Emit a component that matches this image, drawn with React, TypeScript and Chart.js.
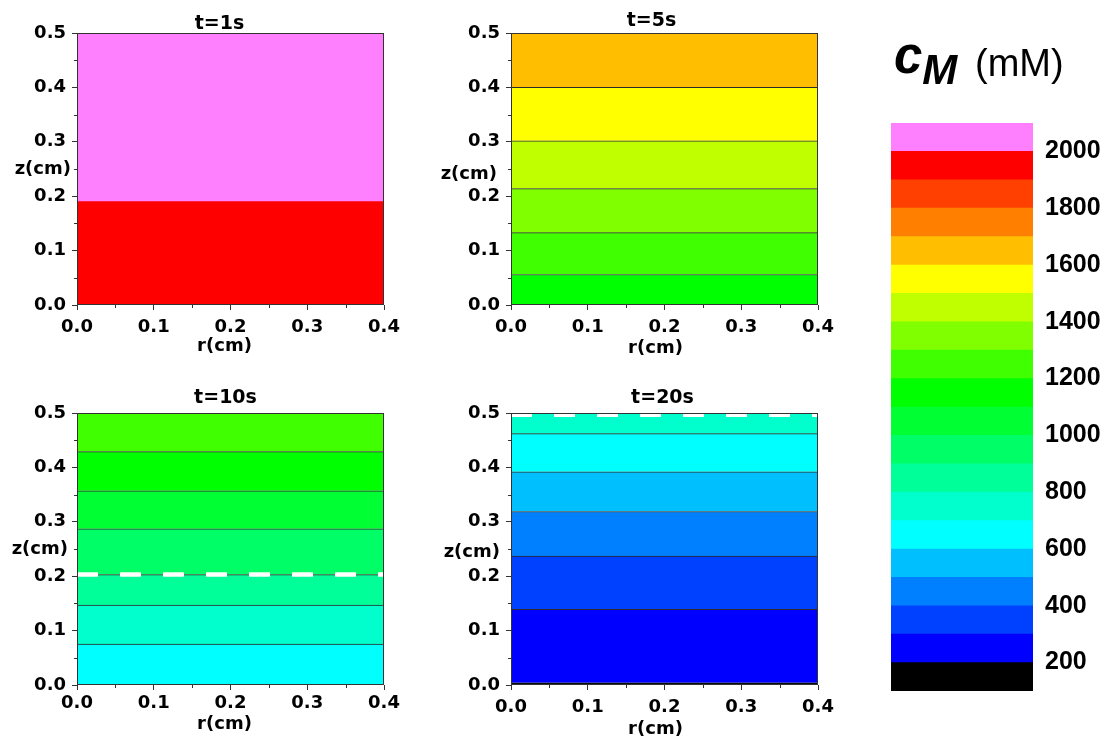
import React, { useEffect, useRef } from "react";
import { Chart, registerables } from "chart.js";

Chart.register(...registerables);

// ---------- data ----------
// lower bound (mM) of each colour band of the colour bar, and its colour
const LEVELS = [100, 200, 300, 400, 500, 600, 700, 800, 900, 1000, 1100, 1200, 1300, 1400, 1500, 1600, 1700, 1800, 1900, 2000];
const LEVEL_COLORS = [
  "#000000", "#0000FF", "#0040FF", "#0080FF", "#00BFFF", "#00FFFF", "#00FFCC", "#00FF99", "#00FF66", "#00FF33",
  "#00FF00", "#40FF00", "#80FF00", "#BFFF00", "#FFFF00", "#FFBF00", "#FF8000", "#FF4000", "#FF0000", "#FF80FF",
];
const LEVEL_STEP = 100;
const COLORBAR_TICKS = [200, 400, 600, 800, 1000, 1200, 1400, 1600, 1800, 2000];

const TITLES = ["t=1s", "t=5s", "t=10s", "t=20s"];
const X_TITLE = "r(cm)";
const Y_TITLE = "z(cm)";

// band boundaries in z (cm) and the concentration level of each band (bottom → top)
const P1_BOUNDS = [0, 0.19, 0.5];
const P1_LEVELS = [1900, 2000];
const P2_BOUNDS = [0, 0.056, 0.133, 0.214, 0.302, 0.4, 0.5];
const P2_LEVELS = [1100, 1200, 1300, 1400, 1500, 1600];
const P3_BOUNDS = [0, 0.075, 0.147, 0.203, 0.287, 0.357, 0.429, 0.5];
const P3_LEVELS = [600, 700, 800, 900, 1000, 1100, 1200];
const P4_BOUNDS = [0, 0.004, 0.139, 0.237, 0.319, 0.392, 0.462, 0.5];
const P4_LEVELS = [100, 200, 300, 400, 500, 600, 700];

const PANEL_BOUNDS = [P1_BOUNDS, P2_BOUNDS, P3_BOUNDS, P4_BOUNDS];
const PANEL_LEVELS = [P1_LEVELS, P2_LEVELS, P3_LEVELS, P4_LEVELS];
// white dashed marker line position (z, cm) per panel
const DASH_Z: (number | null)[] = [null, null, 0.203, 0.497];

const R_RANGE = [0, 0.4];
const Z_RANGE = [0, 0.5];
const Z_TICKS = [0, 0.1, 0.2, 0.3, 0.4, 0.5];
const R_TICKS = [0, 0.1, 0.2, 0.3, 0.4];
const Z_MINOR = [0.05, 0.15, 0.25, 0.35, 0.45];
const R_MINOR = [0.05, 0.15, 0.25, 0.35];

// ---------- layout / style ----------
const FRAME = "#333333";
const CONTOUR = "#2a2a2a";
const TICK_FONT = { family: "'DejaVu Sans'", weight: "bold" as const, size: 18 };
const LABEL_FONT = "bold 18px 'DejaVu Sans'";
const TITLE_FONT = "bold 19px 'DejaVu Sans'";

const Y_AXIS_W = 77;
const X_AXIS_H = 58;
const PAD_TOP = 33;
const PAD_RIGHT = 22;
const PLOT_W = 307;
const PLOT_H = 272;

const PANEL_LAYOUT = [
  { left: 0, top: 0, contour: false, tickPad: 7, titleDx: -11, titleDy: -4, xTitleDx: -6, xTitleDy: 41, yTitleDx: -6, yTitleAt: 0.25 },
  { left: 434, top: 0, contour: true, tickPad: 7, titleDx: -13, titleDy: -7, xTitleDx: -9, xTitleDy: 43, yTitleDx: -14, yTitleAt: 0.24 },
  { left: 0, top: 380, contour: true, tickPad: 3, titleDx: -5, titleDy: -10, xTitleDx: -6, xTitleDy: 39, yTitleDx: -9, yTitleAt: 0.25 },
  { left: 434, top: 380, contour: true, tickPad: 7, titleDx: -2, titleDy: -10, xTitleDx: -9, xTitleDy: 44, yTitleDx: -11, yTitleAt: 0.243 },
];

const CB_LEFT = 880;
const CB_W = 230;
const CB_H = 742;

function levelColor(level: number) {
  return LEVEL_COLORS[LEVELS.indexOf(level)];
}

function makeDecor(i: number) {
  const L = PANEL_LAYOUT[i];
  return {
    id: "decor" + i,
    afterDraw(chart: any) {
      const { ctx, chartArea: a, scales } = chart;
      const ys = scales.y;
      const xs = scales.x;
      ctx.save();
      ctx.strokeStyle = FRAME;
      ctx.lineWidth = 1;
      ctx.strokeRect(a.left + 0.5, a.top + 0.5, a.right - a.left - 1, a.bottom - a.top - 1);
      ctx.beginPath();
      Z_MINOR.forEach((v) => {
        const y = Math.round(ys.getPixelForValue(v)) + 0.5;
        ctx.moveTo(a.left, y);
        ctx.lineTo(a.left - 3, y);
      });
      R_MINOR.forEach((v) => {
        const x = Math.round(xs.getPixelForValue(v)) + 0.5;
        ctx.moveTo(x, a.bottom);
        ctx.lineTo(x, a.bottom + 3);
      });
      ctx.stroke();
      ctx.fillStyle = "#000";
      ctx.font = TITLE_FONT;
      ctx.textAlign = "center";
      ctx.textBaseline = "alphabetic";
      ctx.fillText(TITLES[i], (a.left + a.right) / 2 + L.titleDx, a.top + L.titleDy);
      ctx.font = LABEL_FONT;
      ctx.textBaseline = "middle";
      ctx.fillText(X_TITLE, (a.left + a.right) / 2 + L.xTitleDx, a.bottom + L.xTitleDy);
      ctx.textAlign = "right";
      ctx.fillText(Y_TITLE, a.left + L.yTitleDx, ys.getPixelForValue(L.yTitleAt));
      ctx.restore();
    },
  };
}

function panelConfig(i: number): any {
  const L = PANEL_LAYOUT[i];
  const bounds = PANEL_BOUNDS[i];
  const levels = PANEL_LEVELS[i];
  const datasets: any[] = levels.map((lv, k) => ({
    type: "bar",
    data: [[bounds[k], bounds[k + 1]]],
    backgroundColor: levelColor(lv),
    borderColor: CONTOUR,
    borderWidth: { top: L.contour ? 1 : 0, left: 0, right: 0, bottom: 0 },
    borderSkipped: false,
    barPercentage: 1,
    categoryPercentage: 1,
    grouped: false,
    order: 1,
    xAxisID: "xc",
    yAxisID: "y",
  }));
  const dz = DASH_Z[i];
  if (dz !== null) {
    datasets.push({
      type: "line",
      data: [
        { x: R_RANGE[0], y: dz },
        { x: R_RANGE[1], y: dz },
      ],
      xAxisID: "x",
      yAxisID: "y",
      borderColor: "#ffffff",
      borderWidth: 4.5,
      borderDash: [21, 22],
      pointRadius: 0,
      fill: false,
      order: -1,
    });
  }
  return {
    type: "bar",
    data: { labels: ["band"], datasets },
    options: {
      animation: false,
      responsive: false,
      devicePixelRatio: 1,
      events: [],
      layout: { padding: { top: PAD_TOP, right: PAD_RIGHT, left: 0, bottom: 0 } },
      plugins: { legend: { display: false }, tooltip: { enabled: false }, title: { display: false } },
      scales: {
        xc: { type: "category", display: false, offset: true },
        x: {
          type: "linear",
          position: "bottom",
          offset: false,
          min: R_RANGE[0],
          max: R_RANGE[1],
          afterBuildTicks: (s: any) => {
            s.ticks = R_TICKS.map((v) => ({ value: v }));
          },
          afterFit: (s: any) => {
            s.height = X_AXIS_H;
            s.paddingLeft = 0;
            s.paddingRight = 0;
          },
          ticks: {
            callback: (v: any) => Number(v).toFixed(1),
            font: TICK_FONT,
            color: "#000",
            padding: L.tickPad,
            maxRotation: 0,
            autoSkip: false,
          },
          grid: { offset: false, drawOnChartArea: false, drawTicks: true, tickLength: 5, tickColor: FRAME, tickWidth: 1 },
          border: { display: false },
        },
        y: {
          type: "linear",
          position: "left",
          min: Z_RANGE[0],
          max: Z_RANGE[1],
          afterBuildTicks: (s: any) => {
            s.ticks = Z_TICKS.map((v) => ({ value: v }));
          },
          afterFit: (s: any) => {
            s.width = Y_AXIS_W;
            s.paddingTop = 0;
            s.paddingBottom = 0;
          },
          ticks: {
            callback: (v: any) => Number(v).toFixed(1),
            font: TICK_FONT,
            color: "#000",
            padding: 6,
            autoSkip: false,
          },
          grid: { drawOnChartArea: false, drawTicks: true, tickLength: 5, tickColor: FRAME, tickWidth: 1 },
          border: { display: false },
        },
      },
    },
    plugins: [makeDecor(i)],
  };
}

const headerPlugin = {
  id: "cbHeader",
  afterDraw(chart: any) {
    const { ctx } = chart;
    ctx.save();
    ctx.fillStyle = "#000";
    ctx.textAlign = "left";
    ctx.textBaseline = "alphabetic";
    ctx.font = "italic bold 51px 'Liberation Sans'";
    const x0 = 894 - CB_LEFT;
    ctx.fillText("c", x0, 73);
    const cw = ctx.measureText("c").width;
    ctx.font = "italic bold 42px 'Liberation Sans'";
    ctx.fillText("M", x0 + cw, 84);
    ctx.font = "38px 'Liberation Sans'";
    ctx.fillText("(mM)", 975 - CB_LEFT, 76);
    ctx.restore();
  },
};

function colorbarConfig(): any {
  return {
    type: "bar",
    data: {
      labels: ["cb"],
      datasets: LEVELS.map((lv, k) => ({
        data: [[lv, lv + LEVEL_STEP]],
        backgroundColor: LEVEL_COLORS[k],
        borderWidth: 0,
        barPercentage: 1,
        categoryPercentage: 1,
        grouped: false,
      })),
    },
    options: {
      animation: false,
      responsive: false,
      devicePixelRatio: 1,
      events: [],
      layout: { padding: { top: 123, bottom: 51, left: 11, right: 0 } },
      plugins: { legend: { display: false }, tooltip: { enabled: false } },
      scales: {
        x: { type: "category", display: false, offset: true },
        y: {
          type: "linear",
          position: "right",
          min: LEVELS[0],
          max: LEVELS[LEVELS.length - 1] + LEVEL_STEP,
          afterBuildTicks: (s: any) => {
            s.ticks = COLORBAR_TICKS.map((v) => ({ value: v }));
          },
          afterFit: (s: any) => {
            s.width = 77;
          },
          ticks: {
            callback: (v: any) => String(v),
            font: { family: "'Liberation Sans'", weight: "bold", size: 25 },
            color: "#000",
            padding: 12,
            autoSkip: false,
          },
          grid: { display: false, drawTicks: false },
          border: { display: false },
        },
      },
    },
    plugins: [headerPlugin],
  };
}

function PanelCanvas({ index }: { index: number }) {
  const ref = useRef<HTMLCanvasElement | null>(null);
  useEffect(() => {
    if (!ref.current) return;
    const chart = new Chart(ref.current, panelConfig(index));
    return () => chart.destroy();
  }, [index]);
  const L = PANEL_LAYOUT[index];
  const w = Y_AXIS_W + PLOT_W + PAD_RIGHT;
  const h = PAD_TOP + PLOT_H + X_AXIS_H;
  return (
    <canvas
      ref={ref}
      width={w}
      height={h}
      style={{ position: "absolute", left: L.left, top: L.top, width: w, height: h }}
    />
  );
}

function ColorbarCanvas() {
  const ref = useRef<HTMLCanvasElement | null>(null);
  useEffect(() => {
    if (!ref.current) return;
    const chart = new Chart(ref.current, colorbarConfig());
    return () => chart.destroy();
  }, []);
  return (
    <canvas
      ref={ref}
      width={CB_W}
      height={CB_H}
      style={{ position: "absolute", left: CB_LEFT, top: 0, width: CB_W, height: CB_H }}
    />
  );
}

export default function App() {
  return (
    <div
      style={{
        position: "absolute",
        left: 0,
        top: 0,
        width: 1110,
        height: 742,
        overflow: "hidden",
        background: "#ffffff",
      }}
    >
      {PANEL_LAYOUT.map((_, i) => (
        <PanelCanvas key={i} index={i} />
      ))}
      <ColorbarCanvas />
    </div>
  );
}
